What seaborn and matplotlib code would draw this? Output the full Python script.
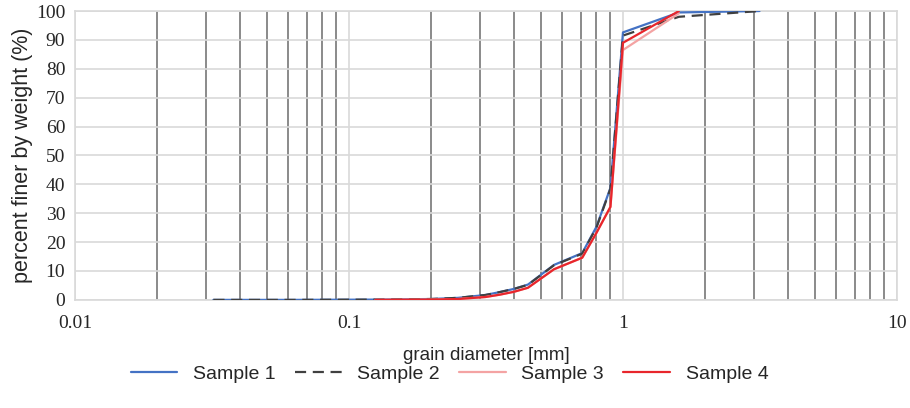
import matplotlib
matplotlib.use("Agg")
import matplotlib.pyplot as plt
import matplotlib.ticker as mticker
from matplotlib.lines import Line2D
import pandas as pd
import seaborn as sns

# sieve sizes (mm)
sizes_123 = [0.032, 0.063, 0.125, 0.2, 0.25, 0.315, 0.355, 0.4, 0.45, 0.56, 0.71, 0.8, 0.9, 1.0, 1.6, 3.15]
sizes_4 = [0.125, 0.2, 0.25, 0.315, 0.355, 0.4, 0.45, 0.56, 0.71, 0.8, 0.9, 1.0, 1.6]

sample1 = [0, 0, 0.1, 0.3, 0.7, 1.7, 2.7, 3.8, 5.3, 12.1, 16.2, 25.3, 38.8, 92.6, 99.5, 100]
sample2 = [0, 0, 0.1, 0.3, 0.7, 1.7, 2.7, 3.8, 5.2, 12.0, 16.0, 25.0, 38.5, 91.5, 98.0, 100]
sample3 = [0, 0.1, 0.3, 1.0, 1.8, 2.8, 4.2, 10.6, 14.6, 23.2, 32.2, 86.5, 99.2]
sample4 = [0, 0.1, 0.3, 1.0, 1.8, 2.8, 4.2, 10.6, 14.6, 23.2, 32.2, 89.0, 100]

labels = ["Sample 1", "Sample 2", "Sample 3", "Sample 4"]
colors = ["#4472c4", "#404040", "#f4a3a3", "#e8262c"]
styles = ["-", (0, (5, 3)), "-", "-"]

sns.set_style("white")

fig = plt.figure(figsize=(9.1, 4.08), dpi=100)
ax = fig.add_axes([0.0824, 0.265, 0.9033, 0.708])

series = [(sizes_123, sample1), (sizes_123, sample2), (sizes_4, sample3), (sizes_4, sample4)]
for (xs, ys), lab, c, ls in zip(series, labels, colors, styles):
    df = pd.DataFrame({"d": xs, "p": ys})
    sns.lineplot(data=df, x="d", y="p", ax=ax, color=c, linewidth=1.6, zorder=3)
    ax.lines[-1].set_linestyle(ls)

ax.set_xscale("log")
ax.set_xlim(0.01, 10)
ax.set_ylim(0, 100)
ax.set_yticks(range(0, 101, 10))
ax.xaxis.set_major_locator(mticker.FixedLocator([0.01, 0.1, 1, 10]))
ax.xaxis.set_major_formatter(mticker.FixedFormatter(["0.01", "0.1", "1", "10"]))
ax.xaxis.set_minor_locator(mticker.LogLocator(base=10, subs=range(2, 10)))
ax.xaxis.set_minor_formatter(mticker.NullFormatter())

ax.grid(True, which="major", axis="both", color="#d9d9d9", linewidth=1.2, zorder=0)
ax.grid(True, which="minor", axis="x", color="#8a8a8a", linewidth=1.4, zorder=0)
ax.set_axisbelow(True)
for s in ax.spines.values():
    s.set_color("#d9d9d9")
    s.set_linewidth(1.2)

ax.tick_params(axis="both", which="both", length=0)
ax.tick_params(axis="x", pad=11)
ax.tick_params(axis="y", pad=7)
for t in ax.get_xticklabels() + ax.get_yticklabels():
    t.set_family("Liberation Serif")
    t.set_fontsize(14)

ax.set_xlabel("grain diameter [mm]", family="Liberation Sans", fontsize=13.5, labelpad=11)
ax.set_ylabel("percent finer by weight (%)", family="Liberation Sans", fontsize=15.5, labelpad=2)

handles = [Line2D([], [], color=c, linestyle=ls, linewidth=1.6) for c, ls in zip(colors, styles)]
fig.legend(handles, labels, loc="center", bbox_to_anchor=(0.494, 0.083), ncol=4, frameon=False,
           prop={"family": "Liberation Sans", "size": 14}, handlelength=2.4, columnspacing=1.0, handletextpad=0.8)

fig.savefig("out.png", dpi=100)
